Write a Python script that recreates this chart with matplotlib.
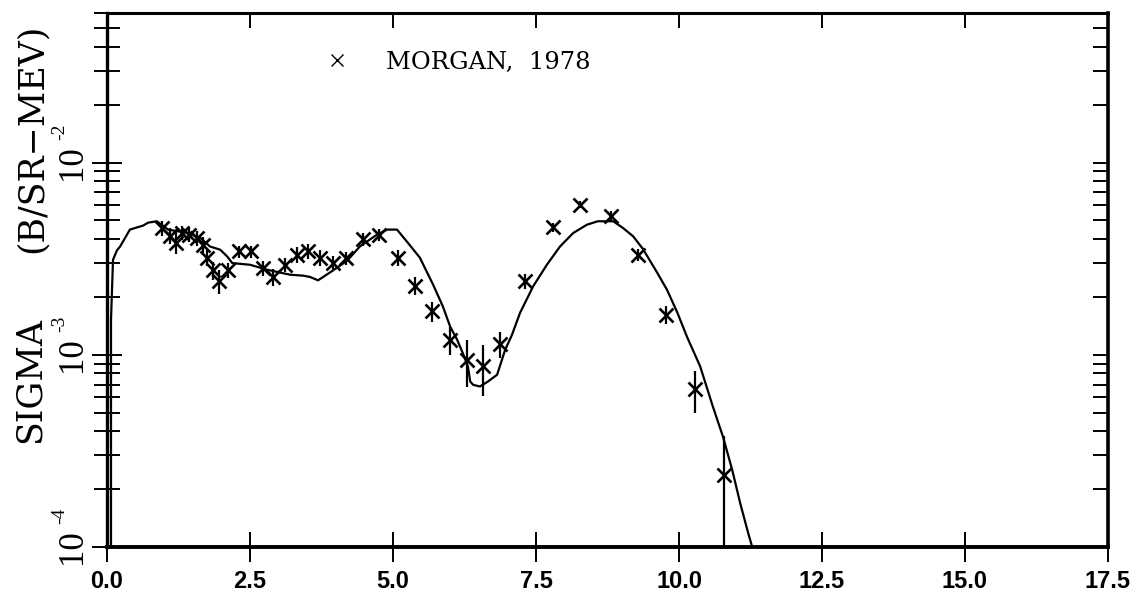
import matplotlib
matplotlib.use("Agg")
import matplotlib.pyplot as plt
import matplotlib.transforms as mtransforms
from matplotlib.lines import Line2D
from matplotlib.ticker import FixedLocator, FixedFormatter, LogLocator, NullFormatter

# Morgan (1978) measured cross sections, MeV vs b/(sr MeV)
morgan_e = [0.96, 1.10, 1.21, 1.31, 1.44, 1.57, 1.68, 1.74, 1.85, 1.95,
            2.12, 2.30, 2.51, 2.73, 2.91, 3.11, 3.32, 3.52, 3.72, 3.95,
            4.18, 4.47, 4.76, 5.08, 5.38, 5.69, 6.00, 6.29, 6.57, 6.87,
            7.31, 7.79, 8.27, 8.81, 9.29, 9.77, 10.28, 10.79]
morgan_sigma = [4.57e-3, 4.17e-3, 3.83e-3, 4.30e-3, 4.22e-3, 4.05e-3, 3.74e-3, 3.19e-3, 2.75e-3, 2.41e-3,
                2.75e-3, 3.45e-3, 3.45e-3, 2.83e-3, 2.54e-3, 2.94e-3, 3.32e-3, 3.45e-3, 3.19e-3, 3.00e-3,
                3.19e-3, 4.00e-3, 4.22e-3, 3.19e-3, 2.29e-3, 1.68e-3, 1.20e-3, 9.4e-4, 8.7e-4, 1.14e-3,
                2.41e-3, 4.62e-3, 6.04e-3, 5.25e-3, 3.32e-3, 1.62e-3, 6.6e-4, 2.37e-4]
morgan_err = [4.0e-4, 4.0e-4, 5.0e-4, 3.5e-4, 3.5e-4, 3.5e-4, 3.5e-4, 3.0e-4, 3.0e-4, 3.5e-4,
              2.5e-4, 2.5e-4, 2.5e-4, 2.5e-4, 2.5e-4, 2.5e-4, 3.0e-4, 3.0e-4, 3.0e-4, 2.5e-4,
              2.5e-4, 3.0e-4, 3.0e-4, 3.0e-4, 2.5e-4, 2.0e-4, 2.0e-4, 2.6e-4, 2.6e-4, 1.8e-4,
              2.2e-4, 2.5e-4, 2.5e-4, 3.5e-4, 2.5e-4, 1.8e-4, 1.6e-4, 1.4e-4]

# calculated spectrum
calc_e = [0.07, 0.07, 0.105, 0.175, 0.23, 0.40, 0.63, 0.72, 0.87, 1.07,
          1.40, 1.63, 1.80, 1.98, 2.10, 2.19, 2.50, 2.80, 3.02, 3.20,
          3.43, 3.55, 3.69, 3.93, 4.20, 4.42, 4.72, 4.90, 5.07, 5.24,
          5.47, 5.70, 5.87, 6.00, 6.12, 6.22, 6.31, 6.35, 6.40, 6.52,
          6.66, 6.82, 6.96, 7.08, 7.22, 7.45, 7.69, 7.92, 8.15, 8.39,
          8.58, 8.85, 9.02, 9.20, 9.37, 9.62, 9.79, 9.97, 10.14, 10.37,
          10.59, 10.77, 10.93, 11.07, 11.21, 11.28, 11.35]
calc_sigma = [5.0e-5, 1.52e-3, 3.12e-3, 3.50e-3, 3.66e-3, 4.48e-3, 4.70e-3, 4.87e-3, 4.95e-3, 4.48e-3,
              4.31e-3, 4.06e-3, 3.66e-3, 3.52e-3, 3.25e-3, 3.00e-3, 2.94e-3, 2.77e-3, 2.68e-3, 2.61e-3,
              2.58e-3, 2.54e-3, 2.44e-3, 2.72e-3, 3.09e-3, 3.66e-3, 4.22e-3, 4.48e-3, 4.48e-3, 3.89e-3,
              3.20e-3, 2.32e-3, 1.79e-3, 1.40e-3, 1.20e-3, 1.02e-3, 8.69e-4, 7.26e-4, 6.98e-4, 6.84e-4,
              7.26e-4, 7.87e-4, 1.06e-3, 1.27e-3, 1.65e-3, 2.27e-3, 2.94e-3, 3.66e-3, 4.30e-3, 4.75e-3,
              4.95e-3, 4.95e-3, 4.57e-3, 4.13e-3, 3.55e-3, 2.67e-3, 2.18e-3, 1.66e-3, 1.24e-3, 8.7e-4,
              5.4e-4, 3.74e-4, 2.52e-4, 1.69e-4, 1.18e-4, 1.0e-4, 6.0e-5]

x_ticks = [0.0, 2.5, 5.0, 7.5, 10.0, 12.5, 15.0, 17.5]
x_tick_labels = ["0.0", "2.5", "5.0", "7.5", "10.0", "12.5", "15.0", "17.5"]
y_decades = [1e-4, 1e-3, 1e-2]
y_decade_exps = ["-4", "-3", "-2"]

fig = plt.figure(figsize=(11.46, 6), dpi=100)
ax = fig.add_axes([107 / 1146, 53 / 600, 1001 / 1146, 534 / 600])

ax.plot(calc_e, calc_sigma, color="black", lw=1.6, zorder=3)
ax.errorbar(morgan_e, morgan_sigma, yerr=morgan_err, fmt="x", color="black",
            ms=10, mew=1.9, elinewidth=1.6, capsize=0, zorder=4)

ax.set_yscale("log")
ax.set_xlim(0, 17.5)
ax.set_ylim(1e-4, 6e-2)

ax.xaxis.set_major_locator(FixedLocator(x_ticks))
ax.xaxis.set_major_formatter(FixedFormatter(x_tick_labels))
ax.yaxis.set_major_locator(FixedLocator(y_decades))
ax.yaxis.set_major_formatter(NullFormatter())
ax.yaxis.set_minor_locator(LogLocator(base=10, subs=range(2, 10)))
ax.yaxis.set_minor_formatter(NullFormatter())

ax.tick_params(axis="x", which="major", direction="inout", length=21, width=1.4,
               top=False, pad=6, labelsize=17)
ax.tick_params(axis="y", which="major", direction="inout", length=22, width=1.4, right=False)
ax.tick_params(axis="y", which="minor", direction="inout", length=19, width=1.4, right=False)
for lab in ax.get_xticklabels():
    lab.set_family(["Liberation Sans", "DejaVu Sans"])
    lab.set_weight("bold")

for side, lw in [("left", 2.4), ("bottom", 2.8), ("right", 2.6), ("top", 2.2)]:
    ax.spines[side].set_linewidth(lw)

# inward ticks on the right and top frame edges
ax_r = ax.twinx()
ax_r.set_yscale("log")
ax_r.set_ylim(ax.get_ylim())
ax_r.yaxis.set_major_locator(FixedLocator(y_decades))
ax_r.yaxis.set_minor_locator(LogLocator(base=10, subs=range(2, 10)))
ax_r.yaxis.set_major_formatter(NullFormatter())
ax_r.yaxis.set_minor_formatter(NullFormatter())
ax_r.tick_params(axis="y", which="both", direction="in", length=11, width=1.4)
ax_t = ax.twiny()
ax_t.set_xlim(ax.get_xlim())
ax_t.xaxis.set_major_locator(FixedLocator(x_ticks))
ax_t.xaxis.set_major_formatter(NullFormatter())
ax_t.tick_params(axis="x", which="major", direction="in", length=11, width=1.4)
for a in (ax_r, ax_t):
    for s in a.spines.values():
        s.set_visible(False)

# rotated decade labels on the left: "10" centred on the tick, exponent above it
trans = mtransforms.blended_transform_factory(ax.transAxes, ax.transData)
for val, exp in zip(y_decades, y_decade_exps):
    t_base = mtransforms.offset_copy(trans, fig=fig, x=-35, y=0, units="dots")
    ax.text(0, val, "10", transform=t_base, rotation=90, ha="center", va="center",
            family="Liberation Serif", fontsize=25, clip_on=False)
    t_exp = mtransforms.offset_copy(trans, fig=fig, x=-47, y=31, units="dots")
    ax.text(0, val, exp, transform=t_exp, rotation=90, ha="center", va="center",
            family="Liberation Serif", fontsize=14, clip_on=False)

fig.text(30 / 1146, 1 - 380 / 600, "SIGMA", rotation=90, ha="center", va="center",
         family="DejaVu Serif", fontsize=25)
fig.text(32 / 1146, 1 - 138 / 600, "(B/SR\u2212MEV)", rotation=90, ha="center", va="center",
         family="DejaVu Serif", fontsize=25)

handle = Line2D([], [], ls="none", marker="x", ms=9, mew=1.0, color="black",
                label="MORGAN,  1978")
leg = ax.legend(handles=[handle], loc="center left", frameon=False,
                bbox_to_anchor=(218 / 1001, 1 - 49 / 534), handlelength=1.0,
                handletextpad=1.5, borderpad=0, borderaxespad=0,
                prop={"family": "DejaVu Serif", "size": 17.5})

fig.savefig("out.png", dpi=100)
